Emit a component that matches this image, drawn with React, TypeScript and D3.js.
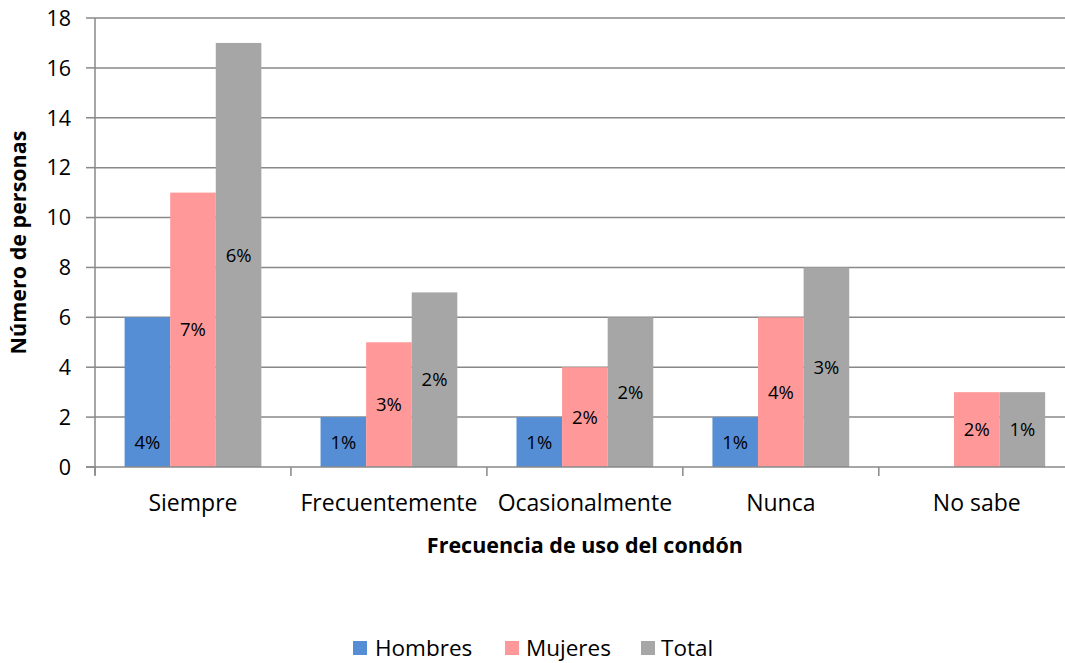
import React from "react";
import * as d3 from "d3";

const categories = ["Siempre", "Frecuentemente", "Ocasionalmente", "Nunca", "No sabe"];
const seriesNames = ["Hombres", "Mujeres", "Total"];
const hombres = [6, 2, 2, 2, 0];
const mujeres = [11, 5, 4, 6, 3];
const total = [17, 7, 6, 8, 3];
const hombresLabels = ["4%", "1%", "1%", "1%", ""];
const mujeresLabels = ["7%", "3%", "2%", "4%", "2%"];
const totalLabels = ["6%", "2%", "2%", "3%", "1%"];
const yTicks = [0, 2, 4, 6, 8, 10, 12, 14, 16, 18];
const colors = ["#558ED5", "#FF9999", "#A6A6A6"];

const W = 1065, H = 663;
const left = 95, right = 1074.75, top = 18, bottom = 467;
const FONT = "'Open Sans', Lato, sans-serif";

export default function App() {
  const series = [hombres, mujeres, total];
  const labels = [hombresLabels, mujeresLabels, totalLabels];
  const x = d3.scaleBand<string>().domain(categories).range([left, right]).paddingInner(0).paddingOuter(0);
  const xs = d3.scaleBand<string>().domain(seriesNames).range([0, x.bandwidth()]).paddingInner(0).paddingOuter(0.649);
  const y = d3.scaleLinear().domain([0, 18]).range([bottom, top]);
  const grid = "#888888";
  const boundaries = categories.map((c) => x(c) as number).concat([right]);

  // label anchor: center of bar, Excel placed "Siempre/Hombres" label lower
  const labelAnchor = (si: number, ci: number, v: number) =>
    si === 0 && ci === 0 ? 1 : v / 2;

  const legendItems = [
    { name: seriesNames[0], sx: 353, tx: 375 },
    { name: seriesNames[1], sx: 505, tx: 526 },
    { name: seriesNames[2], sx: 641, tx: 661 },
  ];

  return (
    <svg width={W} height={H} style={{ position: "absolute", left: 0, top: 0, background: "#fff" }}>
      <rect x={0} y={0} width={W} height={H} fill="#fff" />
      {yTicks.filter((t) => t > 0).map((t) => (
        <line key={t} x1={left} x2={right} y1={y(t)} y2={y(t)} stroke={grid} strokeWidth={1.5} />
      ))}
      {series.map((vals, si) =>
        categories.map((c, ci) => {
          const v = vals[ci];
          if (v <= 0) return null;
          const bx = (x(c) as number) + (xs(seriesNames[si]) as number);
          return (
            <rect key={si + "-" + ci} x={bx} y={y(v)} width={xs.bandwidth()} height={y(0) - y(v)} fill={colors[si]} />
          );
        })
      )}
      {series.map((vals, si) =>
        categories.map((c, ci) => {
          const v = vals[ci];
          const lab = labels[si][ci];
          if (!lab) return null;
          const bx = (x(c) as number) + (xs(seriesNames[si]) as number) + xs.bandwidth() / 2;
          return (
            <text key={"l" + si + "-" + ci} x={bx} y={y(labelAnchor(si, ci, v))} dy="0.36em" textAnchor="middle"
              fontFamily={FONT} fontSize={18.5} fill="#000">{lab}</text>
          );
        })
      )}
      {/* axes */}
      <line x1={left} x2={left} y1={top} y2={bottom + 8} stroke={grid} strokeWidth={1.5} />
      <line x1={left - 9} x2={right} y1={bottom} y2={bottom} stroke={grid} strokeWidth={1.5} />
      {yTicks.map((t) => (
        <g key={"yt" + t}>
          <line x1={left - 9} x2={left} y1={y(t)} y2={y(t)} stroke={grid} strokeWidth={1.5} />
          <text x={71} y={y(t)} dy="0.36em" textAnchor="end" fontFamily={FONT} fontSize={21.5} fill="#000">{t}</text>
        </g>
      ))}
      {boundaries.map((b, i) => (
        <line key={"xt" + i} x1={b} x2={b} y1={bottom} y2={bottom + 9} stroke={grid} strokeWidth={1.5} />
      ))}
      {categories.map((c) => (
        <text key={"xl" + c} x={(x(c) as number) + x.bandwidth() / 2} y={511} textAnchor="middle"
          fontFamily={FONT} fontSize={23} fill="#000">{c}</text>
      ))}
      <text x={(left + right) / 2} y={553} textAnchor="middle" fontFamily={FONT} fontSize={21.5} fontWeight="bold" fill="#000">
        Frecuencia de uso del condón
      </text>
      <text transform={`translate(26, ${(top + bottom) / 2}) rotate(-90)`} textAnchor="middle" fontFamily={FONT}
        fontSize={21.5} fontWeight="bold" fill="#000">Número de personas</text>
      {legendItems.map((it, i) => (
        <g key={"lg" + i}>
          <rect x={it.sx} y={641} width={14} height={14} fill={colors[i]} />
          <text x={it.tx} y={648} dy="0.36em" fontFamily={FONT} fontSize={22.5} fill="#000">{it.name}</text>
        </g>
      ))}
    </svg>
  );
}
